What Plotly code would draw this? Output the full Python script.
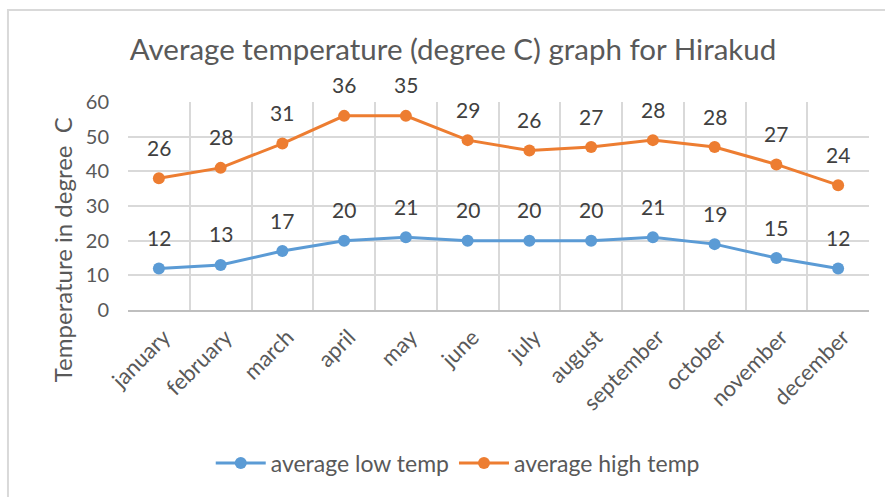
import numpy as np
import plotly.graph_objects as go

# Monthly temperatures for Hirakud (degree C)
months = ["january", "february", "march", "april", "may", "june", "july",
          "august", "september", "october", "november", "december"]
low_temp = [12, 13, 17, 20, 21, 20, 20, 20, 21, 19, 15, 12]
high_temp = [26, 28, 31, 36, 35, 29, 26, 27, 28, 28, 27, 24]

BLUE = "#5b9bd5"
ORANGE = "#ed7d31"
FONT = "Lato"

fig = go.Figure()

# Stacked line chart: the high series sits on top of the low series
fig.add_trace(go.Scatter(
    x=months, y=low_temp, name="average low temp", stackgroup="temps",
    fill="none", mode="lines+markers",
    line=dict(color=BLUE, width=3), marker=dict(color=BLUE, size=12),
))
fig.add_trace(go.Scatter(
    x=months, y=high_temp, name="average high temp", stackgroup="temps",
    fill="none", mode="lines+markers",
    line=dict(color=ORANGE, width=3), marker=dict(color=ORANGE, size=12),
))

# Data labels above each point, showing the series' own value
stacked_high = np.array(low_temp) + np.array(high_temp)
annotations = []
for series_vals, y_pos in ((low_temp, low_temp), (high_temp, stacked_high)):
    for m, v, yp in zip(months, series_vals, y_pos):
        annotations.append(dict(
            x=m, y=float(yp), xref="x", yref="y", text=str(v), showarrow=False,
            yshift=31, font=dict(family=FONT, size=21, color="#404040"),
        ))

# Vertical axis title
annotations.append(dict(
    x=-0.089, y=0.288, xref="paper", yref="paper", text="Temperature in degree  C",
    textangle=-90, showarrow=False, xanchor="center", yanchor="middle",
    font=dict(family=FONT, size=24, color="#595959"),
))

fig.update_layout(
    width=885, height=497,
    margin=dict(l=128, r=16, t=102, b=187),
    paper_bgcolor="white", plot_bgcolor="white",
    font=dict(family=FONT, color="#595959"),
    title=dict(
        text="Average temperature (degree C) graph for Hirakud",
        x=453 / 885, y=1 - 50 / 497, xref="container", yref="container",
        xanchor="center", yanchor="middle",
        font=dict(family=FONT, size=29.5, color="#595959"),
    ),
    showlegend=True,
    legend=dict(
        orientation="h", x=0.445, y=-0.736, xanchor="center", yanchor="middle",
        font=dict(family=FONT, size=23, color="#595959"), itemwidth=50,
        traceorder="normal",
    ),
    annotations=annotations,
    shapes=[dict(
        type="rect", xref="paper", yref="paper",
        x0=-0.162, x1=1.03, y0=-0.95, y1=1.442,
        line=dict(color="#d9d9d9", width=2), fillcolor="rgba(0,0,0,0)", layer="below",
    )],
)

fig.update_xaxes(
    type="category", range=[-0.5, 11.5], tickson="boundaries", ticks="",
    showgrid=True, gridcolor="#d9d9d9", gridwidth=1.5,
    showline=True, linecolor="#bfbfbf", linewidth=1.5,
    tickangle=-45, ticklabelshift=5, ticklabelstandoff=4,
    tickfont=dict(family=FONT, size=22, color="#595959"),
)
fig.update_yaxes(
    range=[0, 60], dtick=10, showgrid=True, gridcolor="#d9d9d9", gridwidth=1.5,
    zeroline=False, showline=False, ticks="", ticklen=0, ticklabelstandoff=18,
    tickfont=dict(family=FONT, size=20, color="#595959"),
)

fig.write_html("out.html")
